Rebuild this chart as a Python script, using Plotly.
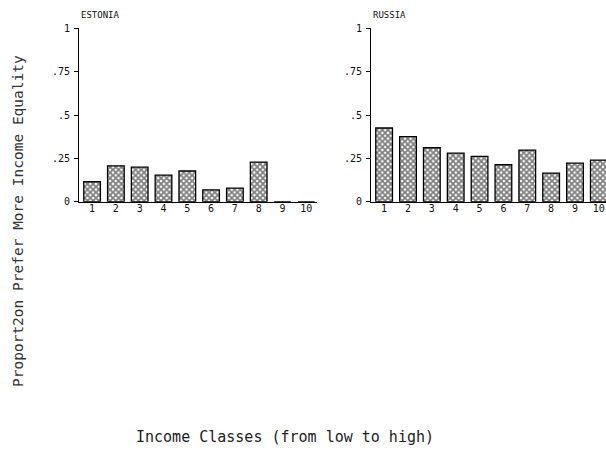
import plotly.graph_objects as go

# Income classes 1 (lowest) .. 10 (highest)
classes = [1, 2, 3, 4, 5, 6, 7, 8, 9, 10]
class_labels = ["1", "2", "3", "4", "5", "6", "7", "8", "9", "10"]

# Share of respondents preferring more income equality
estonia = [0.115, 0.207, 0.199, 0.153, 0.177, 0.068, 0.078, 0.228, 0.0, 0.0]
russia = [0.425, 0.375, 0.311, 0.280, 0.261, 0.213, 0.298, 0.165, 0.222, 0.240]

y_ticks = [0, 0.25, 0.5, 0.75, 1]
y_tick_labels = ["0", ".25", ".5", ".75", "1"]

W, H = 606, 453
MONO = "DejaVu Sans Mono"
INK = "#111111"

bar_style = dict(
    marker=dict(
        color="white",
        line=dict(color="black", width=1.3),
        pattern=dict(shape="x", fgcolor="black", bgcolor="white",
                     size=4, solidity=0.7, fillmode="overlay"),
    ),
    width=0.7,
    showlegend=False,
    hoverinfo="x+y",
)

fig = go.Figure()
fig.add_trace(go.Bar(x=classes, y=estonia, xaxis="x", yaxis="y", **bar_style))
fig.add_trace(go.Bar(x=classes, y=russia, xaxis="x2", yaxis="y2", **bar_style))

y_dom = [1 - 201.7 / H, 1 - 28.3 / H]

common_x = dict(
    tickmode="array", tickvals=classes, ticktext=class_labels,
    showline=True, linecolor="black", linewidth=1,
    ticks="", showgrid=False, zeroline=False, ticklabelstandoff=-3,
    tickfont=dict(family=MONO, size=10, color=INK),
    automargin=False, fixedrange=True,
)
common_y = dict(
    range=[0, 1], tickmode="array", tickvals=y_ticks, ticktext=y_tick_labels,
    showline=True, linecolor="black", linewidth=1,
    ticks="outside", ticklen=4, tickcolor="black", tickwidth=1,
    showgrid=False, zeroline=False, ticklabelstandoff=2,
    tickfont=dict(family=MONO, size=10, color=INK),
    automargin=False, fixedrange=True,
)

fig.update_layout(
    width=W, height=H,
    margin=dict(l=0, r=0, t=0, b=0),
    paper_bgcolor="white", plot_bgcolor="white",
    xaxis=dict(domain=[79 / W, 317 / W], range=[0.45, 10.45], anchor="y", **common_x),
    yaxis=dict(domain=y_dom, anchor="x", **common_y),
    xaxis2=dict(domain=[371 / W, 1.0], range=[0.45, 10.3], anchor="y2", **common_x),
    yaxis2=dict(domain=y_dom, anchor="x2", **common_y),
    annotations=[
        dict(text="ESTONIA", x=79 / W, y=1 - 15.5 / H, xref="paper", yref="paper",
             xanchor="left", yanchor="middle", showarrow=False,
             font=dict(family=MONO, size=9, color=INK)),
        dict(text="RUSSIA", x=371 / W, y=1 - 15.5 / H, xref="paper", yref="paper",
             xanchor="left", yanchor="middle", showarrow=False,
             font=dict(family=MONO, size=9, color=INK)),
        dict(text="Proport2on Prefer More Income Equality", x=18 / W, y=1 - 221 / H,
             xref="paper", yref="paper", xanchor="center", yanchor="middle",
             textangle=-90, showarrow=False,
             font=dict(family=MONO, size=14.5, color="#333333")),
        dict(text="Income Classes (from low to high)", x=285 / W, y=1 - 437 / H,
             xref="paper", yref="paper", xanchor="center", yanchor="middle",
             showarrow=False, font=dict(family=MONO, size=15, color="#222222")),
    ],
)

fig.write_html("out.html")
